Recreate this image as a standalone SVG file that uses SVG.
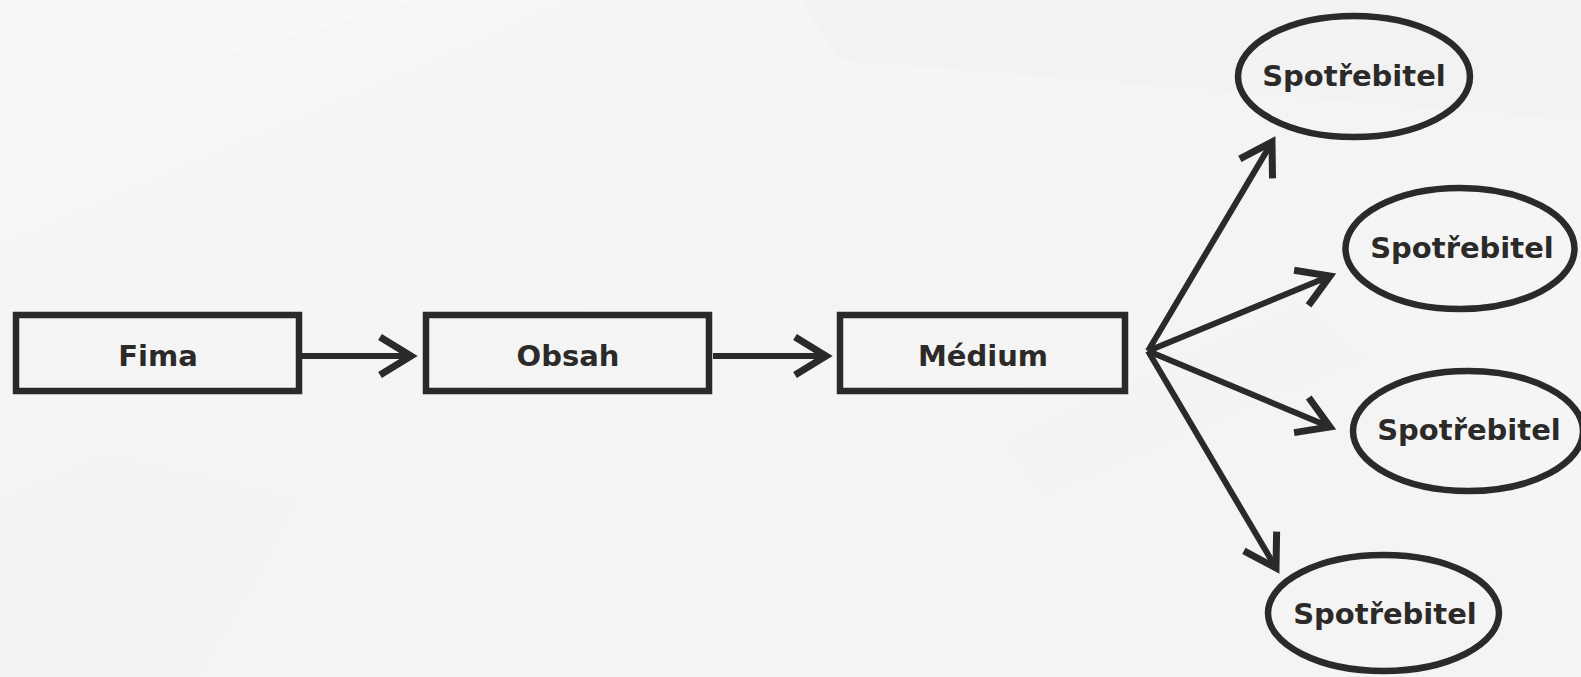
<svg xmlns="http://www.w3.org/2000/svg" width="1581" height="677" viewBox="0 0 1581 677">
<style>
.box{fill:none;stroke:#2b2a29;stroke-width:6.5;}
.conn{fill:none;stroke:#2b2a29;stroke-width:6;}
.lbl{font-family:"DejaVu Sans","Verdana",sans-serif;font-weight:bold;font-size:29px;fill:#2b2a29;text-anchor:middle;}
</style>
<defs>
<linearGradient id="bg" x1="0" y1="0" x2="1" y2="1">
<stop offset="0" stop-color="#f7f7f7"/>
<stop offset="0.5" stop-color="#f4f4f4"/>
<stop offset="1" stop-color="#f6f6f6"/>
</linearGradient>
<marker id="arr" markerUnits="userSpaceOnUse" markerWidth="80" markerHeight="80" refX="0" refY="0" orient="auto" overflow="visible">
<path d="M-31,-19 L0,0 L-31,19" fill="none" stroke="#2b2a29" stroke-width="7"/>
</marker>
</defs>
<rect x="0" y="0" width="1581" height="677" fill="url(#bg)"/>
<polygon points="0,0 420,0 0,120" fill="#fafafa" opacity="0.5"/>
<polygon points="800,0 1581,0 1581,120 840,60" fill="#f1f1f1" opacity="0.4"/>
<polygon points="1000,440 1300,300 1581,520 1581,677 1150,677" fill="#f2f2f2" opacity="0.4"/>
<polygon points="0,420 300,500 200,677 0,677" fill="#f3f3f3" opacity="0.4"/>
<g id="connectors">
<line class="conn" x1="302" y1="356" x2="411" y2="356" marker-end="url(#arr)"/>
<line class="conn" x1="713" y1="356" x2="826" y2="356" marker-end="url(#arr)"/>
<line class="conn" x1="1148" y1="351" x2="1272" y2="142" marker-end="url(#arr)"/>
<line class="conn" x1="1148" y1="351" x2="1330" y2="276" marker-end="url(#arr)"/>
<line class="conn" x1="1148" y1="351" x2="1330" y2="427" marker-end="url(#arr)"/>
<line class="conn" x1="1148" y1="351" x2="1276" y2="568" marker-end="url(#arr)"/>
</g>
<g id="fima">
<rect class="box" x="16" y="315" width="283" height="76"/>
<text class="lbl" x="158" y="366">Fima</text>
</g>
<g id="obsah">
<rect class="box" x="426" y="315" width="283" height="76"/>
<text class="lbl" x="568" y="366">Obsah</text>
</g>
<g id="medium">
<rect class="box" x="840" y="315" width="285" height="76"/>
<text class="lbl" x="983" y="366">Médium</text>
</g>
<g id="spotrebitel1">
<ellipse class="box" cx="1354" cy="76.5" rx="116" ry="60.5"/>
<text class="lbl" x="1354" y="86">Spotřebitel</text>
</g>
<g id="spotrebitel2">
<ellipse class="box" cx="1460" cy="248.5" rx="114.5" ry="60.5"/>
<text class="lbl" x="1462" y="258">Spotřebitel</text>
</g>
<g id="spotrebitel3">
<ellipse class="box" cx="1468" cy="431" rx="115" ry="60"/>
<text class="lbl" x="1469" y="440">Spotřebitel</text>
</g>
<g id="spotrebitel4">
<ellipse class="box" cx="1383.5" cy="613" rx="115.5" ry="58"/>
<text class="lbl" x="1385" y="624">Spotřebitel</text>
</g>
</svg>
